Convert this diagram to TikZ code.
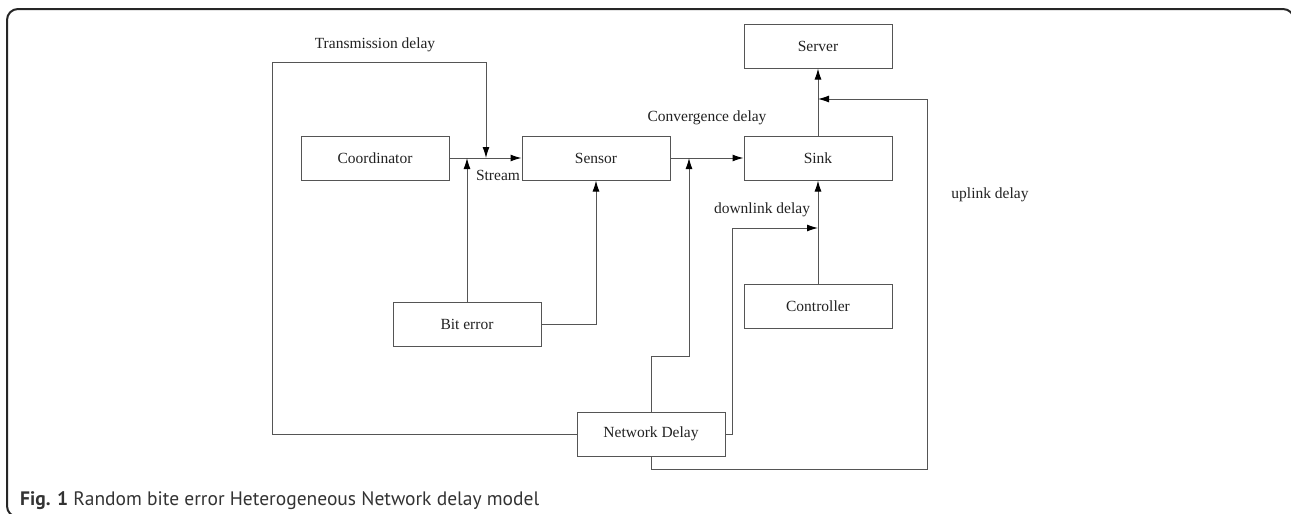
\documentclass[tikz,border=0pt]{standalone}
\usepackage{fontspec}
\setmainfont{Liberation Serif}
\newfontfamily\capfont{PT Sans}
\usetikzlibrary{arrows.meta,positioning}
\definecolor{linegray}{HTML}{555555}
\definecolor{textgray}{HTML}{222222}

\begin{document}
\begin{tikzpicture}[x=1pt,y=-1pt,
  every node/.style={font=\fontsize{15.5}{18}\selectfont,text=textgray},
  box/.style={draw=linegray,line width=1pt,minimum width=148pt,minimum height=44pt,inner sep=0pt},
  line/.style={draw=linegray,line width=1pt},
  arr/.style={line,-{Latex[length=11pt,width=7pt,color=black]}}]

  \useasboundingbox (0,0) rectangle (1291,514);
  \begin{scope}
    \clip (0,0) rectangle (1291,514);
    \draw[black!85,line width=2pt,rounded corners=11pt] (1294,60) |- (7,9) |- (60,517);
  \end{scope}

  % boxes
  \node[box] (coord) at (375,158) {Coordinator};
  \node[box] (sensor) [right=72pt of coord] {Sensor};
  \node[box] (sink) [right=73pt of sensor] {Sink};
  \node[box] (server) [above=67pt of sink] {Server};
  \node[box] (ctrl) [below=103pt of sink] {Controller};
  \node[box] (bit) at (467,324) {Bit error};
  \node[box] (net) at (651,434) {Network Delay};

  % points where arrows meet other lines
  \coordinate (tx) at (486,158);
  \coordinate (cv) at (689,158);
  \coordinate (dn) at (sink |- 0,228);
  \coordinate (up) at (sink |- 0,99);

  % labels
  \node (ltx) at (375,45) {Transmission delay};
  \node (lst) at (498,175) {Stream};
  \node (lcv) at (707,118) {Convergence delay};
  \node (ldn) at (762,210) {downlink delay};
  \node (lup) at (990,195) {uplink delay};

  \path[arr] (coord) edge (sensor)
    (sensor) edge (sink)
    (sink) edge (server)
    (ctrl) edge (sink)
    (bit) edge (bit |- coord);

  \draw[arr] (net.west) -| (272,62) -| (tx);
  \draw[arr] (bit.east) -| (sensor.south);
  \draw[arr] (net.north) -- ++(0,-55) -| (cv);
  \draw[arr] (net.east) -- ++(7,0) |- (dn);
  \draw[arr] (net.south) -- ++(0,13) -| (927,99) -- (up);

  \node[font=\capfont\fontsize{19.5}{22}\selectfont,text=black!80,anchor=base west,inner sep=0pt] (cap) at (20,505)
    {\textbf{Fig. 1} Random bite error Heterogeneous Network delay model};

\end{tikzpicture}
\end{document}
